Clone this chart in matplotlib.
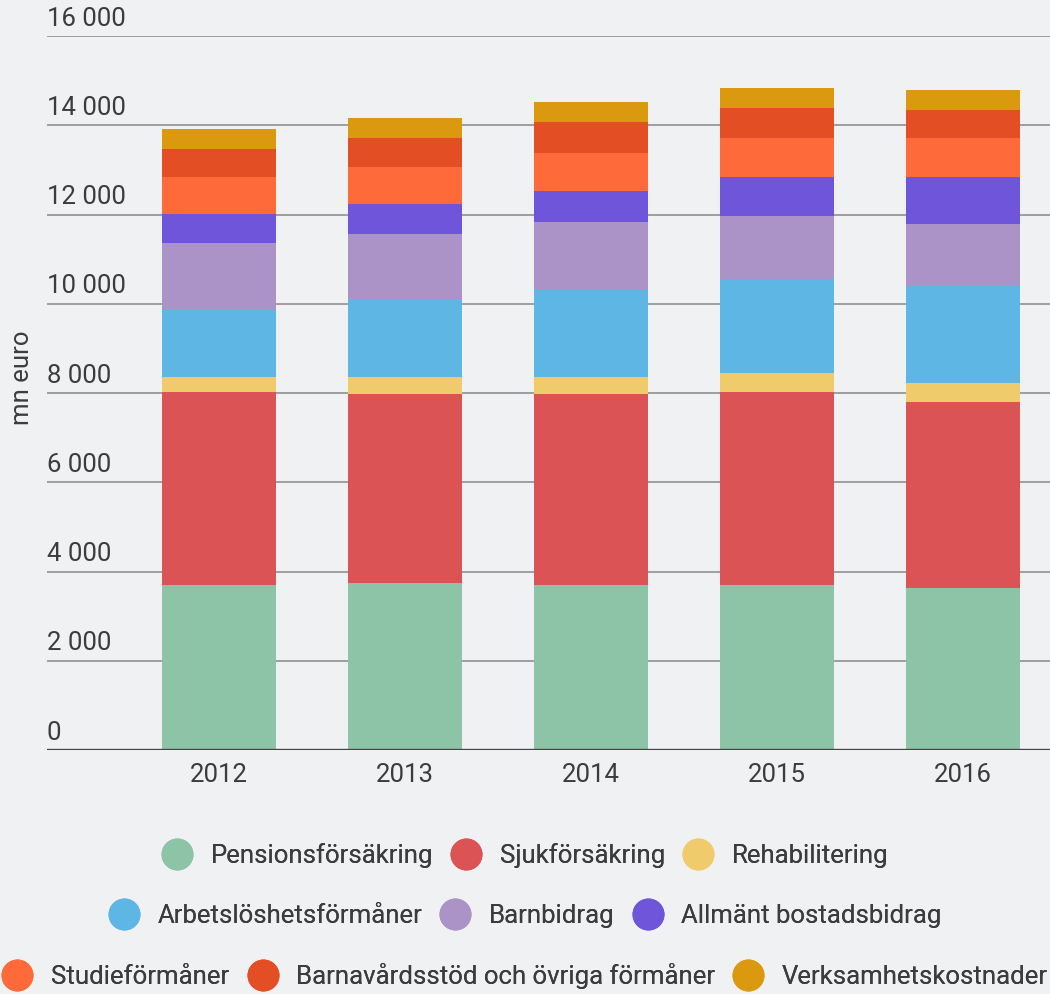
import numpy as np
import matplotlib
matplotlib.use("Agg")
import matplotlib.pyplot as plt
from matplotlib.lines import Line2D
from matplotlib.transforms import blended_transform_factory

years = ["2012", "2013", "2014", "2015", "2016"]

series_names = [
    "Pensionsförsäkring", "Sjukförsäkring", "Rehabilitering",
    "Arbetslöshetsförmåner", "Barnbidrag", "Allmänt bostadsbidrag",
    "Studieförmåner", "Barnavårdsstöd och övriga förmåner", "Verksamhetskostnader",
]

pension = [3698, 3742, 3698, 3698, 3630]
sjuk = [4325, 4236, 4280, 4325, 4169]
rehab = [336, 381, 381, 426, 425]
arbets = [1501, 1748, 1950, 2106, 2174]
barnbidrag = [1502, 1456, 1523, 1412, 1389]
bostad = [650, 673, 695, 874, 1054]
studie = [829, 829, 852, 874, 874]
barnavard = [627, 650, 694, 672, 627]
verksamhet = [448, 448, 449, 448, 448]

colors = ["#8dc3a7", "#db5355", "#efcb6b", "#5eb6e4", "#ab92c7",
          "#6e55d9", "#ff6a3a", "#e44e24", "#da990e"]

yticks = [0, 2000, 4000, 6000, 8000, 10000, 12000, 14000, 16000]
ytick_labels = ["0", "2 000", "4 000", "6 000", "8 000", "10 000", "12 000", "14 000", "16 000"]

plt.rcParams['font.family'] = ['Roboto', 'DejaVu Sans']
text_color = "#3c3c3c"
bg = "#f0f1f3"
fs = 18.5

fig = plt.figure(figsize=(10.5, 9.94), dpi=100, facecolor=bg)
ax = fig.add_axes([47 / 1050, 244 / 994, 1 - 47 / 1050, 714 / 994])
ax.set_facecolor(bg)

data = [pension, sjuk, rehab, arbets, barnbidrag, bostad, studie, barnavard, verksamhet]
x = np.arange(len(years))
bottom = np.zeros(len(years))
for name, vals, col in zip(series_names, data, colors):
    ax.bar(x, vals, width=0.613, bottom=bottom, color=col, label=name, zorder=3)
    bottom += np.array(vals)

ax.set_xlim(-0.925, 4.468)
ax.set_ylim(0, 16000)

# gridlines + labels sitting above them
for v in yticks[1:]:
    ax.axhline(v, color="#888888", lw=1.1, zorder=1)
ax.axhline(0, color="#444444", lw=2.4, zorder=4)
trans = blended_transform_factory(ax.transAxes, ax.transData)
for v, lab in zip(yticks, ytick_labels):
    ax.text(0, v + 120, lab, transform=trans, ha="left", va="bottom",
            fontsize=fs, color=text_color, zorder=5)

ax.set_yticks([])
ax.set_xticks(x)
ax.set_xticklabels(years, fontsize=fs, color=text_color)
ax.tick_params(axis="x", length=0, pad=9)
for s in ax.spines.values():
    s.set_visible(False)

fig.text(22 / 1050, 1 - 378 / 994, "mn euro", rotation=90, ha="center", va="center",
         fontsize=fs, color=text_color)

# legend in three centred rows
rows = [(0, 3, 856), (3, 6, 916), (6, 9, 976)]
for start, end, ypix in rows:
    handles = [Line2D([], [], marker="o", linestyle="none", markersize=22,
                      markerfacecolor=colors[i], markeredgecolor=colors[i])
               for i in range(start, end)]
    leg = fig.legend(handles, series_names[start:end], loc="center",
                     bbox_to_anchor=(0.5, 1 - ypix / 994), ncol=3, frameon=False,
                     fontsize=fs, handlelength=1.2, handletextpad=0.7,
                     columnspacing=0.7, borderpad=0, borderaxespad=0)
    for t in leg.get_texts():
        t.set_color(text_color)
    fig.add_artist(leg)

fig.savefig("out.png", dpi=100, facecolor=bg)
